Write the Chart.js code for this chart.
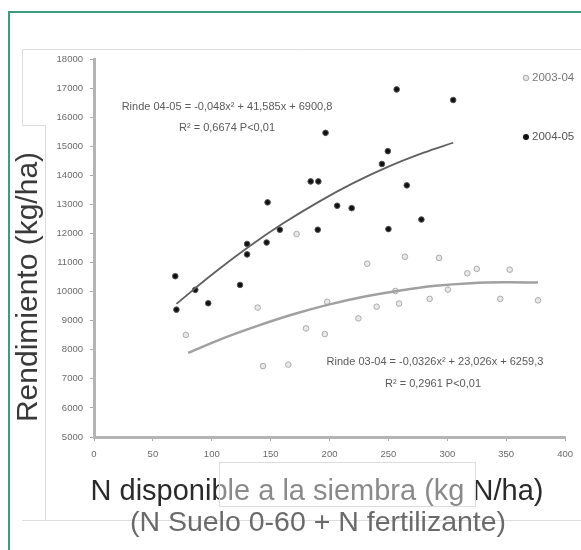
<!DOCTYPE html>
<html>
<head>
<meta charset="utf-8">
<script src="https://cdn.jsdelivr.net/npm/chart.js@4.4.1/dist/chart.umd.min.js"></script>
<style>
  html, body { margin: 0; padding: 0; background: #fff; }
  #wrap { width: 581px; height: 550px; }
</style>
</head>
<body>
<div id="wrap"><canvas id="myChart" width="581" height="550"></canvas></div>
<script>
// 2003-04 season (gray points)
const n0304 = [78, 139, 143.5, 165, 172, 180, 196, 198, 224.5, 232, 240, 256, 259, 264, 285, 293, 300.5, 317, 325, 345, 353, 377];
const rinde0304 = [8510, 9450, 7440, 7490, 11980, 8735, 8540, 9650, 9080, 10960, 9480, 10020, 9590, 11200, 9750, 11160, 10070, 10630, 10780, 9750, 10755, 9700];

// 2004-05 season (black points)
const n0405 = [69, 70, 86, 97, 124, 130, 130, 146.6, 147.4, 157.8, 184, 190.5, 190, 196.6, 206.5, 218.8, 244.5, 249.5, 250, 257, 265.6, 278, 305];
const rinde0405 = [10530, 9380, 10060, 9600, 10230, 11640, 11280, 11690, 13070, 12130, 13790, 13790, 12130, 15460, 12955, 12870, 14390, 14830, 12150, 16955, 13655, 12480, 16590];

// trend curves
const trendX0405 = [70, 100, 130, 160, 190, 220, 250, 280, 305];
const trendY0405 = [9580, 10580, 11500, 12330, 13070, 13730, 14300, 14780, 15120];
const trendX0304 = [80, 110, 140, 170, 200, 230, 260, 290, 320, 350, 377];
const trendY0304 = [7890, 8400, 8840, 9230, 9560, 9830, 10040, 10200, 10290, 10320, 10310];

const xTicks = [0, 50, 100, 150, 200, 250, 300, 350, 400];

const seasons = ['2003-04', '2004-05'];
const eq0405 = ['Rinde 04-05 = -0,048x\u00b2 + 41,585x + 6900,8', 'R\u00b2 = 0,6674 P<0,01'];
const eq0304 = ['Rinde 03-04 = -0,0326x\u00b2 + 23,026x + 6259,3', 'R\u00b2 = 0,2961 P<0,01'];
const xTitle = ['N disponible a la siembra (kg N/ha)', '(N Suelo 0-60 + N fertilizante)'];
const yTitle = 'Rendimiento (kg/ha)';

const toXY = (xs, ys) => xs.map((x, i) => ({ x: x, y: ys[i] }));

const sans = '"Liberation Sans", Arial, sans-serif';

const decor = {
  id: 'decor',
  beforeDraw(chart) {
    const c = chart.ctx;
    c.save();
    // excel frame lines
    c.strokeStyle = '#dcdcdc';
    c.lineWidth = 1;
    c.beginPath();
    c.moveTo(581, 49.5); c.lineTo(22.5, 49.5); c.lineTo(22.5, 125.5);
    c.lineTo(45.5, 125.5); c.lineTo(45.5, 520.5);
    c.moveTo(22.5, 520.5); c.lineTo(581, 520.5);
    c.stroke();
    // green border
    c.strokeStyle = '#3c9c7c';
    c.lineWidth = 2;
    c.beginPath();
    c.moveTo(9, 550); c.lineTo(9, 12); c.lineTo(581, 12);
    c.stroke();
    c.restore();
  },
  afterDraw(chart) {
    const c = chart.ctx;
    c.save();
    c.textAlign = 'center';
    c.textBaseline = 'middle';

    // equations
    c.fillStyle = '#5a5a5a';
    c.font = '11px ' + sans;
    c.fillText(eq0405[0], 227, 107);
    c.fillText(eq0405[1], 227, 128);
    c.fillText(eq0304[0], 435, 362);
    c.fillText(eq0304[1], 433, 384);

    // legend
    c.textAlign = 'left';
    c.font = '11.5px ' + sans;
    c.beginPath(); c.arc(526, 78, 2.8, 0, Math.PI * 2);
    c.fillStyle = '#e4e4e4'; c.fill(); c.strokeStyle = '#aaa'; c.lineWidth = 1; c.stroke();
    c.fillStyle = '#777';
    c.fillText(seasons[0], 532, 78);
    c.beginPath(); c.arc(526, 137, 3, 0, Math.PI * 2);
    c.fillStyle = '#111'; c.fill();
    c.fillStyle = '#555';
    c.fillText(seasons[1], 532, 137);

    // axis titles
    c.textAlign = 'center';
    c.fillStyle = '#2a2a2a';
    c.font = '29px ' + sans;
    c.fillText(xTitle[0], 317, 492);
    c.fillStyle = '#6a6a6a';
    c.font = '28.5px ' + sans;
    c.fillText(xTitle[1], 318, 523);

    c.translate(29, 287);
    c.rotate(-Math.PI / 2);
    c.fillStyle = '#3a3a3a';
    c.font = '30px ' + sans;
    c.fillText(yTitle, 0, 0);
    c.restore();

    // lighter box over the middle of the x title
    c.save();
    c.fillStyle = 'rgba(255,255,255,0.45)';
    c.fillRect(219, 462, 256, 44);
    c.strokeStyle = '#dcdcdc';
    c.lineWidth = 1;
    c.strokeRect(219.5, 462.5, 256, 44);
    c.restore();
  }
};

const ctx = document.getElementById('myChart').getContext('2d');
new Chart(ctx, {
  data: {
    datasets: [
      {
        type: 'line',
        label: 'Trend 03-04',
        data: toXY(trendX0304, trendY0304),
        borderColor: '#a0a0a0',
        borderWidth: 2.5,
        pointRadius: 0,
        tension: 0.4,
        fill: false
      },
      {
        type: 'line',
        label: 'Trend 04-05',
        data: toXY(trendX0405, trendY0405),
        borderColor: '#606060',
        borderWidth: 1.8,
        pointRadius: 0,
        tension: 0.4,
        fill: false
      },
      {
        type: 'scatter',
        label: seasons[0],
        data: toXY(n0304, rinde0304),
        pointRadius: 2.8,
        pointBackgroundColor: '#e8e8e8',
        pointBorderColor: '#ababab',
        pointBorderWidth: 1
      },
      {
        type: 'scatter',
        label: seasons[1],
        data: toXY(n0405, rinde0405),
        pointRadius: 2.8,
        pointBackgroundColor: '#111',
        pointBorderColor: '#555',
        pointBorderWidth: 1
      }
    ]
  },
  options: {
    responsive: false,
    animation: false,
    devicePixelRatio: 1,
    layout: { padding: { top: 59, right: 14, left: 0, bottom: 0 } },
    plugins: {
      legend: { display: false },
      tooltip: { enabled: false }
    },
    scales: {
      x: {
        type: 'linear',
        min: 0,
        max: 400,
        afterBuildTicks: (s) => { s.ticks = xTicks.map(v => ({ value: v })); },
        afterFit: (s) => { s.height = 113; },
        grid: { drawOnChartArea: false, drawTicks: true, tickLength: 4, tickColor: '#aaa', tickWidth: 1 },
        border: { color: '#b4b4b4', width: 3 },
        ticks: { color: '#6a6a6a', font: { family: sans, size: 9.5 }, padding: 8, maxRotation: 0, callback: (v) => String(v) }
      },
      y: {
        type: 'linear',
        min: 5000,
        max: 18000,
        afterFit: (s) => { s.width = 94; },
        grid: { drawOnChartArea: false, drawTicks: true, tickLength: 4, tickColor: '#aaa', tickWidth: 1 },
        border: { color: '#b4b4b4', width: 3 },
        ticks: { stepSize: 1000, color: '#6a6a6a', font: { family: sans, size: 9.5 }, padding: 7, callback: (v) => String(v) }
      }
    }
  },
  plugins: [decor]
});
</script>
</body>
</html>
